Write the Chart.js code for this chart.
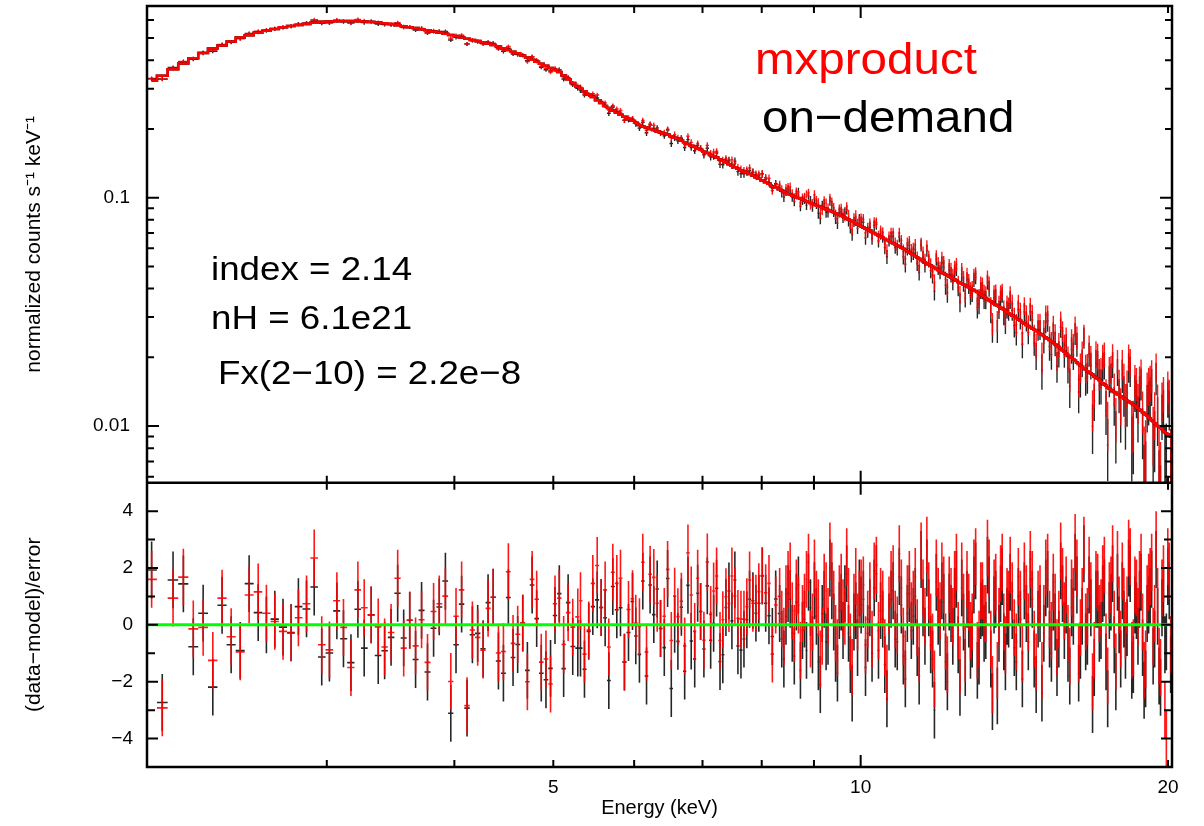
<!DOCTYPE html>
<html lang="en">
<head>
<meta charset="UTF-8">
<title>mxproduct vs on-demand spectrum</title>
<script src="https://cdn.jsdelivr.net/npm/chart.js@4.4.1/dist/chart.umd.min.js"></script>
<style type="text/css">
	body { margin: 0; background: #fff; }
	#wrap { width: 1204px; height: 826px; }
</style>
</head>
<body>
<div id="wrap">
	<canvas id="myChart" width="1204" height="826"></canvas>
</div>
<script>
// bin centres (keV), same grouping for both spectra
const energy = [
	2.021, 2.070, 2.121, 2.171, 2.220, 2.270, 2.320, 2.369, 2.418, 2.468,
	2.518, 2.570, 2.618, 2.668, 2.718, 2.768, 2.814, 2.866, 2.916, 2.966,
	3.018, 3.069, 3.115, 3.168, 3.218, 3.264, 3.316, 3.369, 3.418, 3.468,
	3.520, 3.568, 3.617, 3.665, 3.715, 3.765, 3.817, 3.866, 3.920, 3.968,
	4.015, 4.066, 4.116, 4.166, 4.216, 4.268, 4.316, 4.366, 4.418, 4.468,
	4.518, 4.566, 4.614, 4.667, 4.716, 4.767, 4.816, 4.866, 4.918, 4.969,
	5.019, 5.068, 5.118, 5.170, 5.224, 5.284, 5.316, 5.364, 5.416, 5.466,
	5.520, 5.570, 5.620, 5.667, 5.718, 5.770, 5.818, 5.870, 5.924, 5.978,
	6.022, 6.072, 6.118, 6.170, 6.220, 6.272, 6.320, 6.368, 6.422, 6.470,
	6.524, 6.574, 6.622, 6.674, 6.724, 6.774, 6.824, 6.878, 6.924, 6.970,
	7.022, 7.076, 7.130, 7.178, 7.226, 7.282, 7.328, 7.380, 7.430, 7.480,
	7.530, 7.582, 7.634, 7.686, 7.736, 7.784, 7.842, 7.896, 7.948, 8.010,
	8.072, 8.132, 8.194, 8.256,
	8.33, 8.37, 8.41, 8.45, 8.49, 8.53, 8.57, 8.61, 8.65, 8.69,
	8.73, 8.77, 8.81, 8.85, 8.89, 8.93, 8.97, 9.01, 9.05, 9.09,
	9.13, 9.17, 9.21, 9.25, 9.29, 9.33, 9.37, 9.41, 9.45, 9.49,
	9.53, 9.57, 9.61, 9.65, 9.69, 9.73, 9.77, 9.81, 9.85, 9.89,
	9.93, 9.97, 10.01,
	10.06, 10.11, 10.16, 10.21, 10.26, 10.31, 10.36, 10.41, 10.46, 10.51,
	10.56, 10.61, 10.66, 10.71, 10.76, 10.81, 10.86, 10.91, 10.96, 11.01,
	11.06, 11.11, 11.16, 11.21, 11.26, 11.31, 11.36, 11.41, 11.46, 11.51,
	11.56, 11.61, 11.66, 11.71, 11.76, 11.81, 11.86, 11.91, 11.96, 12.01,
	12.06, 12.11, 12.16, 12.21, 12.26, 12.31, 12.36, 12.41, 12.46, 12.51,
	12.56, 12.61, 12.66, 12.71, 12.76, 12.81, 12.86, 12.91, 12.96, 13.01,
	13.06, 13.11, 13.16, 13.21, 13.26, 13.31, 13.36, 13.41, 13.46, 13.51,
	13.56, 13.61, 13.66, 13.71, 13.76, 13.81, 13.86, 13.91, 13.96, 14.01,
	14.075, 14.14, 14.205, 14.27, 14.335, 14.40, 14.465, 14.53, 14.595, 14.66,
	14.725, 14.79, 14.855, 14.92, 14.985, 15.05, 15.115, 15.18, 15.245, 15.31,
	15.375, 15.44, 15.505, 15.57, 15.635, 15.70, 15.765, 15.83, 15.895, 15.96,
	16.025, 16.09, 16.155, 16.22, 16.285, 16.35, 16.415, 16.48, 16.545, 16.61,
	16.675, 16.74, 16.805, 16.87, 16.935, 17.00, 17.065, 17.13, 17.195, 17.26,
	17.325, 17.39, 17.455, 17.52, 17.585, 17.65, 17.715, 17.78, 17.845, 17.91,
	17.975, 18.04, 18.105, 18.17, 18.235, 18.30, 18.365, 18.43, 18.495, 18.56,
	18.625, 18.69, 18.755, 18.82, 18.885, 18.95, 19.015, 19.08, 19.145, 19.21,
	19.275, 19.34, 19.405, 19.47, 19.535, 19.60, 19.665, 19.73, 19.795, 19.86,
	19.925, 19.99, 20.055, 20.12
];

// folded model (counts s-1 keV-1)
const model = [
	0.325, 0.342, 0.365, 0.387, 0.408, 0.430, 0.450, 0.464, 0.483, 0.503,
	0.514, 0.528, 0.539, 0.548, 0.558, 0.565, 0.571, 0.577, 0.584, 0.589,
	0.591, 0.593, 0.594, 0.594, 0.593, 0.591, 0.588, 0.585, 0.581, 0.576,
	0.569, 0.564, 0.558, 0.553, 0.547, 0.541, 0.535, 0.529, 0.522, 0.516,
	0.510, 0.503, 0.497, 0.491, 0.486, 0.480, 0.473, 0.466, 0.459, 0.451,
	0.443, 0.436, 0.429, 0.420, 0.411, 0.402, 0.394, 0.386, 0.378, 0.370,
	0.362, 0.355, 0.343, 0.330, 0.318, 0.307, 0.300, 0.292, 0.284, 0.276,
	0.267, 0.260, 0.252, 0.247, 0.241, 0.236, 0.231, 0.226, 0.221, 0.217,
	0.213, 0.208, 0.205, 0.203, 0.200, 0.198, 0.195, 0.193, 0.191, 0.189,
	0.186, 0.183, 0.181, 0.178, 0.175, 0.172, 0.169, 0.167, 0.164, 0.162,
	0.159, 0.157, 0.154, 0.152, 0.150, 0.147, 0.145, 0.143, 0.140, 0.138,
	0.136, 0.134, 0.132, 0.130, 0.129, 0.127, 0.125, 0.123, 0.121, 0.119,
	0.117, 0.115, 0.112, 0.111,
	0.1088, 0.1075, 0.1063, 0.1050, 0.1038, 0.1030, 0.1021, 0.1013, 0.1005, 0.0997,
	0.0989, 0.0981, 0.0973, 0.0965, 0.0957, 0.0949, 0.0941, 0.0933, 0.0926, 0.0919,
	0.0912, 0.0905, 0.0898, 0.0891, 0.0884, 0.0877, 0.0870, 0.0863, 0.0856, 0.0848,
	0.0841, 0.0833, 0.0826, 0.0818, 0.0811, 0.0803, 0.0796, 0.0788, 0.0781, 0.0773,
	0.0765, 0.0758, 0.0750,
	0.0741, 0.0733, 0.0725, 0.0717, 0.0708, 0.0700, 0.0691, 0.0683, 0.0675, 0.0667,
	0.0660, 0.0653, 0.0646, 0.0639, 0.0632, 0.0625, 0.0618, 0.0611, 0.0604, 0.0598,
	0.0590, 0.0583, 0.0575, 0.0568, 0.0561, 0.0554, 0.0547, 0.0540, 0.0533, 0.0527,
	0.0521, 0.0515, 0.0509, 0.0504, 0.0498, 0.0493, 0.0487, 0.0482, 0.0476, 0.0471,
	0.0466, 0.0461, 0.0456, 0.0452, 0.0447, 0.0443, 0.0438, 0.0433, 0.0428, 0.0424,
	0.0420, 0.0417, 0.0413, 0.0409, 0.0405, 0.0401, 0.0397, 0.0394, 0.0390, 0.0386,
	0.0381, 0.0377, 0.0373, 0.0369, 0.0364, 0.0360, 0.0356, 0.0352, 0.0347, 0.0343,
	0.0340, 0.0337, 0.0333, 0.0330, 0.0326, 0.0323, 0.0319, 0.0316, 0.0312, 0.0309,
	0.0305, 0.0301, 0.0297, 0.0293, 0.0289, 0.0285, 0.0281, 0.0277, 0.0274, 0.0271,
	0.0267, 0.0264, 0.0261, 0.0258, 0.0254, 0.0251, 0.0248, 0.0245, 0.0241, 0.0238,
	0.0235, 0.0232, 0.0228, 0.0225, 0.0222, 0.0219, 0.0215, 0.0212, 0.0208, 0.0205,
	0.0202, 0.0199, 0.0196, 0.0193, 0.0190, 0.0187, 0.0184, 0.0182, 0.0179, 0.0177,
	0.0174, 0.0172, 0.0170, 0.0168, 0.0165, 0.0163, 0.0161, 0.0159, 0.0156, 0.0154,
	0.0152, 0.0150, 0.0148, 0.0146, 0.0144, 0.0143, 0.0141, 0.0140, 0.0138, 0.0137,
	0.0135, 0.0134, 0.0132, 0.0131, 0.0129, 0.0128, 0.0127, 0.0126, 0.0124, 0.0123,
	0.0121, 0.0120, 0.0118, 0.0117, 0.0115, 0.0114, 0.0112, 0.0111, 0.0109, 0.0108,
	0.0106, 0.0105, 0.0103, 0.0102, 0.0100, 0.0099, 0.0098, 0.0097, 0.0095, 0.0094,
	0.0093, 0.0092, 0.0091, 0.0090
];

// (data-model)/error, on-demand (black)
const residOnDemand = [
	1.93, -2.73, 1.58, 1.44, -0.77, 0.41, -2.19, 0.69, -0.70, -0.90,
	1.45, 0.43, 0.00, 0.20, -0.08, -0.27, 0.64, 0.56, 1.33, -1.13,
	-0.99, 0.49, -0.49, -1.33, 0.55, -0.82, 0.35, -1.08, -0.91, -0.44,
	1.11, -0.46, 0.16, -1.22, 0.51, -1.66, -0.12, 0.63, 1.54, -3.11,
	-0.70, 0.73, -2.93, -0.35, -0.30, -0.84, 0.78, 0.97, -1.27, -1.70,
	0.96, -1.15, -0.69, 0.06, -1.60, 1.40, 0.22, -1.70, -1.93, -1.53,
	0.33, 1.10, -1.54, 0.78, -0.76, -0.82, -0.82, -1.56, -0.23, 0.64,
	0.88, 0.61, 0.25, -1.96, 1.35, 0.53, 0.60, -1.31, -0.27, 0.82,
	-0.39, -1.04, 1.54, -1.80, 1.40, 0.36, 1.26, -0.13, -0.80, 1.63,
	-2.24, 0.02, -0.58, 0.62, -1.63, 1.39, -0.57, -1.20, 1.11, 0.47,
	-0.85, 1.37, -0.54, 0.05, 1.29, -1.29, -1.05, 0.61, 1.19, 0.14,
	1.58, -0.74, -0.89, -0.50, 0.18, 0.90, 0.85, 0.41, 0.76, 1.72,
	0.76, 0.32, -0.41, 0.91,
	0.4, -0.5, -1.2, 0.3, 1.1, 0.9, -0.3, -1.1, 0.8, 1.4,
	-1.6, -0.2, 0.2, -0.9, 1.5, 0.6, -0.7, 1.2, 0.3, -1.3,
	-2.1, 0.4, 0.9, -0.6, -0.4, 2.0, 1.2, 0.1, -1.0, -1.7,
	0.5, 0.8, -0.2, 1.1, 1.8, -0.3, -1.4, -2.4, 0.1, 0.5,
	-0.8, 1.3, 0.7,
	0.9, -1.5, -0.3, 0.6, -1.0, 1.3, 1.8, -0.9, 0.5, 0.2, -1.4, -2.6, 0.1, 0.9, 1.2, -0.5, -0.6, 1.7, 0.7, -1.1,
	-1.9, 0.4, 1.1, -0.2, 0.3, 1.0, -0.8, -1.8, 2.3, 0.6, -0.4, 2.0, 0.6, -0.7, -1.2, -3.0, 1.5, 0.3, -0.1, 1.2,
	0.8, -1.3, -2.0, 0.8, 0.4, -0.4, 1.0, 1.6, -0.7, -2.2, 1.3, 0.1, -1.5, 0.9, 0.2, -0.9, -0.5, 1.4, 1.9, -1.6,
	-1.1, 0.5, 0.6, -0.3, -0.2, 2.1, 1.4, -1.2, -2.7, 0.7, 0.9, -2.5, -0.3, 1.1, 1.7, -0.6, -1.3, 0.3, 0.2, 1.5,
	0.5, -0.8, -1.3, 1.0, 0.2, -1.9, 1.2, 0.4, -0.6, 1.6, 0.9, -1.2, -2.1, 0.2, 0.4, -2.4, -0.3, 1.3, 1.6, -0.5,
	-1.0, 0.8, 0.1, -1.5, -0.5, 1.9, 1.1, -0.2, 0.7, -1.0, -1.8, 0.6, 0.3, 2.2, 1.4, -1.7, -0.9, 0.3, 2.5, -0.6,
	-0.4, 1.4, 0.6, -2.8, -1.5, 0.9, 0.9, -0.3, -0.2, 1.1, 1.3, -1.3, -2.6, 0.5, 0.8, 1.8, -0.7, -2.0, 1.5, 0.0,
	-1.2, 1.2, 0.2, -0.9, -0.1, 2.0, 1.8, -1.6, -1.4, 0.7, 0.5, -0.4, 0.9, 1.5, -0.8, -2.3, -1.9, 0.4, 0.7, 1.0,
	1.6, -1.1, -0.5, 2.3, 0.3, -1.8, -2.2, 0.6, 1.0, -0.7, -0.6, 1.7, 1.2, -1.4
];

// (data-model)/error, mxproduct (red)
const residMx = [
	1.60, -2.92, 0.94, 1.68, -0.14, -0.09, -1.25, 0.94, -0.42, -0.95,
	1.05, 1.16, 0.41, 0.12, -0.23, -0.29, 0.25, 0.74, 2.35, -0.70,
	-0.88, 0.85, -0.09, -1.50, 1.23, 0.60, 0.35, -0.07, -0.78, -0.27,
	1.64, -0.82, 0.16, -0.74, 0.18, -1.32, 0.47, 0.74, 1.01, -1.99,
	0.30, 1.23, -2.84, -0.18, -0.44, -0.89, 0.58, 0.97, -0.99, -0.94,
	1.87, -0.65, -0.33, 0.06, -2.00, 1.60, 0.90, -1.31, -1.20, -2.08,
	0.74, 0.94, -0.69, 0.43, -0.08, 0.28, 0.85, -1.03, -0.18, 1.46,
	2.09, 0.61, 1.23, -0.78, 1.85, 1.46, 1.64, -1.31, 0.54, 0.92,
	0.06, -0.06, 2.20, -0.96, 1.78, 1.67, 0.76, -0.13, 0.30, 1.95,
	-0.55, 1.01, 0.29, 0.83, -0.74, 2.53, 1.05, -0.23, 1.64, 0.47,
	-0.54, 2.21, 0.37, 1.19, 1.72, -0.55, 0.18, 0.99, 0.75, 1.72,
	1.01, 0.23, 0.20, 0.20, 0.64, 1.58, 0.76, 0.76, 1.17, 1.73,
	1.13, 1.46, -1.03, 0.70,
	1.0, 0.2, -0.4, 1.1, 1.6, 1.9, 0.5, -0.3, 1.3, 0.7,
	-0.9, 0.4, 0.8, 1.6, 2.2, -0.5, 0.1, 2.0, 0.9, 0.6,
	-1.2, -0.4, 1.5, 1.2, 0.3, 2.6, 1.9, 0.9, -0.3, -0.8,
	1.1, 1.5, 0.6, 0.3, 2.4, 1.0, -0.6, -1.5, 0.8, 1.7,
	0.1, 0.9, 1.3,
	1.4, -0.7, 0.2, 1.2, -0.5, 1.9, 2.1, -0.2, 1.0, 0.9, -0.8, -1.7, 0.7, 1.6, 1.8, 0.2, 0.0, 2.5, 1.3, -0.4,
	-1.2, 1.1, 1.6, 0.5, 0.9, 1.7, -0.1, -1.0, 2.6, 1.3, 0.3, 2.8, 1.2, 0.1, -0.6, -1.9, 2.0, 1.0, 0.5, 1.9,
	1.4, -0.6, -1.4, 1.4, 1.0, 0.3, 1.6, 2.2, -0.2, -1.4, 1.9, 0.8, -1.0, 1.6, 0.8, -0.2, 0.1, 2.0, 2.4, -0.9,
	-0.5, 1.2, 1.2, 0.4, 0.4, 2.7, 2.0, -0.5, -2.1, 1.3, 1.5, -1.6, 0.3, 1.8, 2.2, 0.1, -0.7, 1.0, 0.9, 2.1,
	1.2, -0.1, -0.6, 1.7, 0.9, -1.0, 1.9, 1.1, 0.1, 2.3, 1.6, -0.5, -1.3, 0.9, 1.1, -1.6, 0.4, 2.0, 2.2, 0.2,
	-0.2, 1.5, 0.8, -0.8, 0.2, 2.6, 1.7, 0.5, 1.4, -0.3, -1.1, 1.3, 1.0, 2.9, 2.0, -1.0, -0.1, 1.0, 2.8, 0.1,
	0.3, 2.1, 1.2, -2.0, -0.9, 1.6, 1.5, 0.4, 0.6, 1.8, 2.1, -0.6, -1.8, 1.2, 1.4, 2.5, 0.2, -1.3, 2.3, 0.7,
	-0.5, 1.9, 1.0, -0.2, 0.7, 2.7, 2.4, -0.9, -0.8, 1.4, 1.3, 0.3, 1.6, 2.2, 0.1, -1.6, -1.2, 1.1, 1.5, 1.7,
	2.2, -0.4, 0.4, 3.0, 1.0, -1.1, -1.5, 1.3, 1.8, -3.0, -4.0, 2.4, 1.9, -0.7
];

// fractional 1-sigma error, read per energy band from the bar lengths
const errBandStart = [2.0, 2.5, 3.0, 3.5, 4.0, 4.5, 5.0, 5.5, 6.0, 6.5, 7.0, 7.5, 8.3, 9.0, 10, 11, 12, 13, 14, 15, 16, 17, 18, 19];
const errBandFrac = [0.012, 0.013, 0.014, 0.016, 0.018, 0.02, 0.023, 0.026, 0.029, 0.032, 0.036, 0.04, 0.045, 0.052, 0.06, 0.07, 0.08, 0.09, 0.105, 0.125, 0.145, 0.17, 0.21, 0.26];

// axis ticks
const xTickLabels = [5, 10, 20];
const xTickMinor = [3, 4, 5, 6, 7, 8, 9, 20];
const xTickMajor = [10];
const yTickLabels = [0.01, 0.1];
const yTickMinor = [0.006, 0.007, 0.008, 0.009, 0.02, 0.03, 0.04, 0.05, 0.06, 0.07, 0.08, 0.09, 0.2, 0.3, 0.4, 0.5, 0.6];
const residTickLabels = [4, 2, 0, -2, -4];
const residTickMinor = [3, 1, -1, -3];

function bandErr(e) {
	let f = errBandFrac[0];
	for (let k = 0; k < errBandStart.length; k++) {
		if (e >= errBandStart[k]) f = errBandFrac[k];
	}
	return f;
}

// spectrum points: data = model + resid * sigma
function spectrum(resid) {
	return energy.map(function(e, i) {
		const s = model[i] * bandErr(e);
		return {x: e, y: model[i] + resid[i] * s, err: s};
	});
}
function residuals(resid) {
	return energy.map(function(e, i) { return {x: e, y: resid[i], err: 1}; });
}

// crosses: bin width horizontally, +-sigma vertically
const errorBars = {
	id: 'errorBars',
	beforeDatasetsDraw(chart) {
		const ctx = chart.ctx, xs = chart.scales.x, a = chart.chartArea;
		chart.data.datasets.forEach(function(ds) {
			if (!ds.errorBars) return;
			const ys = chart.scales[ds.yAxisID];
			const isLog = ys.type === 'logarithmic';
			const px = ds.data.map(function(p) { return xs.getPixelForValue(p.x); });
			ctx.save();
			ctx.beginPath();
			ctx.rect(a.left, ys.top, a.right - a.left, ys.bottom - ys.top);
			ctx.clip();
			ctx.strokeStyle = ds.barColor;
			ctx.lineWidth = ds.barWidth;
			ctx.beginPath();
			ds.data.forEach(function(p, j) {
				const x = px[j];
				const l = j > 0 ? (px[j - 1] + x) / 2 : x - (px[1] - x) / 2;
				const r = j < px.length - 1 ? (px[j + 1] + x) / 2 : x + (x - px[j - 1]) / 2;
				const y = ys.getPixelForValue(p.y);
				const low = isLog ? Math.max(p.y - p.err, 1e-4) : p.y - p.err;
				let y1 = ys.getPixelForValue(p.y + p.err);
				let y2 = ys.getPixelForValue(low);
				if (y2 - y1 < 4) { y1 = y - 2; y2 = y + 2; }
				ctx.moveTo(l, y); ctx.lineTo(r, y);
				ctx.moveTo(x, y1); ctx.lineTo(x, y2);
			});
			ctx.stroke();
			ctx.restore();
		});
	}
};

// PGPLOT style frame, inward ticks and the text labels
const frameTicks = {
	id: 'frameTicks',
	afterDraw(chart) {
		const ctx = chart.ctx, a = chart.chartArea;
		const xs = chart.scales.x, ys = chart.scales.y, yr = chart.scales.y2;
		ctx.save();
		ctx.strokeStyle = '#000';
		ctx.lineWidth = 2;
		ctx.beginPath();
		const edges = [[ys.top, 1], [ys.bottom, -1], [yr.top, 1], [yr.bottom, -1]];
		xTickMinor.concat(xTickMajor).forEach(function(v) {
			const p = xs.getPixelForValue(v);
			const len = xTickMajor.includes(v) ? 12 : 7;
			edges.forEach(function(e) { ctx.moveTo(p, e[0]); ctx.lineTo(p, e[0] + e[1] * len); });
		});
		function yTicks(scale, values, len) {
			values.forEach(function(v) {
				const p = scale.getPixelForValue(v);
				ctx.moveTo(a.left, p); ctx.lineTo(a.left + len, p);
				ctx.moveTo(a.right, p); ctx.lineTo(a.right - len, p);
			});
		}
		yTicks(ys, yTickLabels, 12);
		yTicks(ys, yTickMinor, 7);
		yTicks(yr, residTickLabels, 11);
		yTicks(yr, residTickMinor, 8);
		ctx.stroke();
		ctx.lineWidth = 2.5;
		ctx.strokeRect(a.left, a.top, a.right - a.left, a.bottom - a.top);
		ctx.beginPath();
		ctx.moveTo(a.left, ys.bottom);
		ctx.lineTo(a.right, ys.bottom);
		ctx.stroke();

		function label(text, x, y, size, color) {
			ctx.save();
			ctx.font = size + "px 'Liberation Sans', Arial, Helvetica, sans-serif";
			ctx.fillStyle = color;
			ctx.textBaseline = 'alphabetic';
			ctx.translate(x, y);
			ctx.scale(1.08, 1);
			ctx.fillText(text, 0, 0);
			ctx.restore();
		}
		label('mxproduct', 755, 74, 44, '#ff0000');
		label('on\u2212demand', 762, 132, 44, '#000');
		label('index = 2.14', 211, 280, 34, '#000');
		label('nH = 6.1e21', 211, 329, 34, '#000');
		label('Fx(2\u221210) = 2.2e\u22128', 218, 384, 34, '#000');
		ctx.restore();
	}
};

Chart.defaults.font.family = "'Liberation Sans', Arial, Helvetica, sans-serif";
Chart.defaults.color = '#000';

const noGrid = {display: false, drawTicks: false};
const noBorder = {display: false};

// fixed width for the two stacked left axes, no label overhang padding
function leftAxisFit(scale) {
	scale.width = 147;
	scale.paddingTop = 0;
	scale.paddingBottom = 0;
}

var ctx = document.getElementById('myChart');
var myChart = new Chart(ctx, {
	type: 'scatter',
	data: {
		datasets: [
			{ // zero line of the residual panel
				label: 'zero',
				data: [{x: 2, y: 0}, {x: 20.2, y: 0}],
				yAxisID: 'y2',
				showLine: true,
				borderColor: '#00ff00',
				borderWidth: 3,
				pointRadius: 0
			},
			{
				label: 'mxproduct model',
				data: energy.map(function(e, i) { return {x: e, y: model[i]}; }),
				yAxisID: 'y',
				showLine: true,
				stepped: 'middle',
				borderColor: '#ff0000',
				borderWidth: 2.5,
				pointRadius: 0
			},
			{
				label: 'on-demand model',
				data: energy.map(function(e, i) { return {x: e, y: model[i]}; }),
				yAxisID: 'y',
				showLine: true,
				stepped: 'middle',
				borderColor: '#000',
				borderWidth: 2.5,
				pointRadius: 0
			},
			{
				label: 'on-demand',
				data: spectrum(residOnDemand),
				yAxisID: 'y',
				pointRadius: 0,
				errorBars: true,
				barColor: 'rgba(0,0,0,0.85)',
				barWidth: 1.4
			},
			{
				label: 'mxproduct',
				data: spectrum(residMx),
				yAxisID: 'y',
				pointRadius: 0,
				errorBars: true,
				barColor: 'rgba(255,0,0,0.9)',
				barWidth: 1.4
			},
			{
				label: 'on-demand resid',
				data: residuals(residOnDemand),
				yAxisID: 'y2',
				pointRadius: 0,
				errorBars: true,
				barColor: 'rgba(0,0,0,0.85)',
				barWidth: 1.6
			},
			{
				label: 'mxproduct resid',
				data: residuals(residMx),
				yAxisID: 'y2',
				pointRadius: 0,
				errorBars: true,
				barColor: 'rgba(255,0,0,0.9)',
				barWidth: 1.6
			}
		]
	},
	options: {
		responsive: false,
		animation: false,
		devicePixelRatio: 1,
		layout: {padding: {left: 0, right: 32, top: 6, bottom: 0}},
		plugins: {
			legend: {display: false},
			tooltip: {enabled: false}
		},
		scales: {
			x: {
				type: 'logarithmic',
				position: 'bottom',
				min: 2,
				max: 20.18,
				grid: noGrid,
				border: noBorder,
				afterBuildTicks: function(scale) {
					scale.ticks = xTickLabels.map(function(v) { return {value: v}; });
				},
				afterFit: function(scale) { scale.height = 59; },
				ticks: {
					padding: 9,
					autoSkip: false,
					maxRotation: 0,
					font: {size: 19},
					callback: function(v) { return String(v); }
				},
				title: {
					display: true,
					text: 'Energy (keV)',
					font: {size: 20},
					padding: {top: 0, bottom: 6}
				}
			},
			y: {
				type: 'logarithmic',
				position: 'left',
				stack: 'panels',
				stackWeight: 476.7,
				weight: 1,
				min: 0.00565,
				max: 0.691,
				grid: noGrid,
				border: noBorder,
				afterBuildTicks: function(scale) {
					scale.ticks = yTickLabels.map(function(v) { return {value: v}; });
				},
				afterFit: leftAxisFit,
				ticks: {
					padding: 17,
					font: {size: 19},
					callback: function(v) { return String(v); }
				},
				title: {
					display: true,
					text: 'normalized counts s\u207B\u00B9 keV\u207B\u00B9',
					font: {size: 21},
					padding: {top: 22, bottom: 0}
				}
			},
			y2: {
				type: 'linear',
				position: 'left',
				stack: 'panels',
				stackWeight: 284.3,
				weight: 0,
				min: -5,
				max: 5,
				grid: noGrid,
				border: noBorder,
				afterBuildTicks: function(scale) {
					scale.ticks = residTickLabels.map(function(v) { return {value: v}; });
				},
				afterFit: leftAxisFit,
				ticks: {
					padding: 14,
					font: {size: 19},
					callback: function(v) { return v < 0 ? '\u2212' + Math.abs(v) : String(v); }
				},
				title: {
					display: true,
					text: '(data\u2212model)/error',
					font: {size: 21},
					padding: {top: 22, bottom: 0}
				}
			}
		}
	},
	plugins: [errorBars, frameTicks]
});
</script>
</body>
</html>
